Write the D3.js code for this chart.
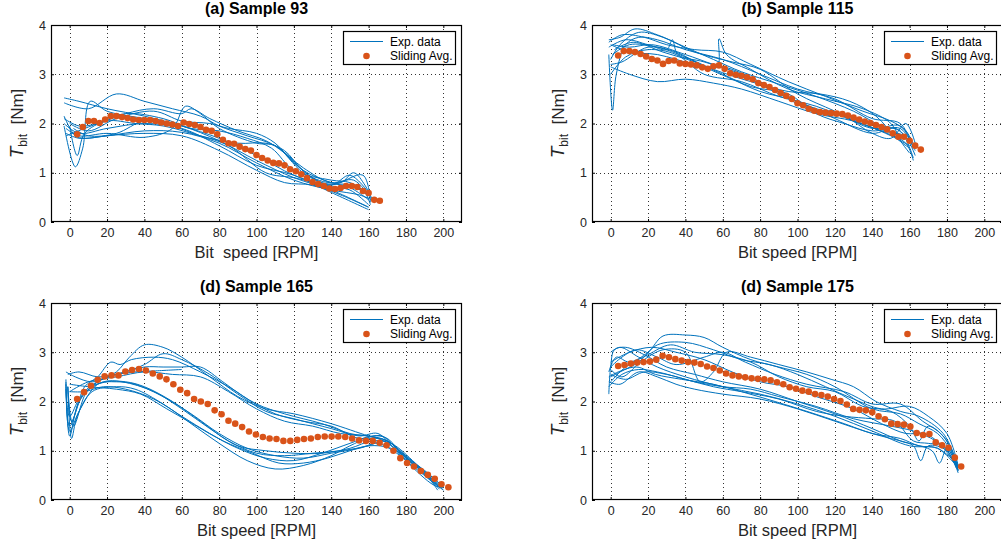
<!DOCTYPE html>
<html><head><meta charset="utf-8">
<script src="https://cdn.jsdelivr.net/npm/d3@7"></script>
<style>
body{margin:0;background:#fff;}
svg{display:block;}
text{font-family:"Liberation Sans",Arial,Helvetica,sans-serif;}
</style>
</head><body>
<svg id="chart" width="1001" height="546"></svg>
<script>
// ---------- tick labels ----------
const xTickValues = [0,20,40,60,80,100,120,140,160,180,200];
const yTickValues = [0,1,2,3,4];
const panelTitles = ["(a) Sample 93","(b) Sample 115","(d) Sample 165","(d) Sample 175"];
const xAxisLabels = ["Bit  speed [RPM]","Bit speed [RPM]","Bit speed [RPM]","Bit speed [RPM]"];
const legendLabels = ["Exp. data","Sliding Avg."];

// ---------- Sample 93 ----------
const avg93X = [4,7,10,13,16,19,22,25,28,31,34,37,40,43,46,49,52,55,58,61,64,67,70,73,76,79,82,85,88,91,94,97,100,103,106,109,112,115,118,121,124,127,130,133,136,139,142,145,148,151,154,157,160,163,166];
const avg93Y = [1.78,1.93,2.05,2.05,2.01,2.08,2.15,2.15,2.13,2.11,2.08,2.07,2.07,2.07,2.05,2.02,2.0,1.98,1.95,2.02,1.99,1.97,1.93,1.87,1.85,1.78,1.67,1.6,1.59,1.53,1.48,1.45,1.36,1.3,1.25,1.2,1.19,1.15,1.07,1.03,0.97,0.89,0.81,0.77,0.73,0.68,0.67,0.69,0.73,0.73,0.71,0.63,0.59,0.45,0.43];
const exp93 = [
 [[-3,2.52],[5,2.45],[20,2.3],[40,2.15],[60,1.95],[80,1.7],[100,1.35],[120,0.95],[140,0.72],[150,0.65],[160,0.35]],
 [[-3,2.42],[10,2.3],[25,2.6],[40,2.45],[55,2.3],[70,2.15],[80,1.95],[95,1.75],[110,1.55],[125,1.1],[140,0.8],[152,0.85],[161,0.5]],
 [[-3,2.15],[3,1.75],[8,1.7],[20,1.75],[40,1.8],[60,1.75],[80,1.45],[100,1.05],[115,0.8],[130,0.75],[145,0.55],[160,0.3]],
 [[-3,1.95],[3,1.12],[7,1.5],[11,2.45],[20,2.25],[40,2.1],[60,1.95],[80,1.65],[100,1.25],[120,0.9],[140,0.65],[160,0.3]],
 [[-2,1.9],[5,1.75],[20,1.8],[40,1.72],[55,1.9],[62,2.35],[70,2.2],[80,1.9],[100,1.6],[110,1.55],[125,1.0],[140,0.75],[150,0.95],[160,0.6]],
 [[-2,1.8],[5,1.7],[20,1.75],[40,1.85],[60,1.82],[80,1.6],[100,1.2],[120,0.85],[140,0.65],[155,0.55],[162,0.45]],
 [[-3,2.1],[5,1.95],[15,2.0],[30,2.2],[45,2.3],[60,2.2],[65,2.3],[75,2.1],[90,1.85],[105,1.65],[115,1.4],[130,0.9],[145,0.8],[152,1.0],[158,0.75],[162,0.45]],
 [[-3,2.0],[5,1.8],[20,1.9],[40,2.0],[60,1.9],[80,1.55],[100,1.15],[120,0.95],[140,0.6],[160,0.25]],
 [[0,1.95],[4,1.35],[8,1.8],[20,2.05],[35,2.0],[50,1.95],[65,1.8],[85,1.55],[105,1.0],[120,0.9],[140,0.75],[157,0.95],[161,0.4]],
 [[2,1.9],[10,1.75],[25,1.8],[40,2.05],[55,1.95],[70,1.75],[90,1.6],[105,1.6],[115,1.45],[125,1.05],[140,0.8],[150,0.7],[160,0.45]],
 [[0,2.0],[10,1.85],[25,2.1],[45,2.25],[60,2.05],[75,2.0],[85,1.9],[100,1.8],[110,1.6],[120,1.2],[135,0.8],[150,0.75],[160,0.55]],
 [[-2,1.75],[15,2.0],[30,2.2],[50,2.1],[65,1.9],[80,1.85],[95,1.7],[108,1.5],[120,1.05],[140,0.85],[150,0.8],[158,0.6],[161,0.35]]
];

// ---------- Sample 115 ----------
const avg115X = [4,7,10,13,16,19,22,25,28,31,34,37,40,43,46,49,52,55,58,61,64,67,70,73,76,79,82,85,88,91,94,97,100,103,106,109,112,115,118,121,124,127,130,133,136,139,142,145,148,151,154,157,160,163,166];
const avg115Y = [3.38,3.47,3.47,3.45,3.41,3.36,3.31,3.28,3.21,3.27,3.28,3.22,3.21,3.2,3.18,3.14,3.11,3.16,3.18,3.11,3.02,2.99,2.97,2.94,2.9,2.82,2.78,2.74,2.68,2.62,2.56,2.5,2.41,2.37,2.3,2.26,2.23,2.22,2.21,2.2,2.19,2.16,2.12,2.08,2.04,2.01,1.97,1.93,1.88,1.8,1.73,1.73,1.65,1.55,1.47];
const exp115 = [
 [[-1,3.4],[1,2.27],[3,3.0],[8,3.6],[15,3.75],[25,3.7],[40,3.5],[60,3.3],[80,3.0],[100,2.7],[120,2.5],[140,2.1],[155,2.0],[162,1.5]],
 [[-1,3.7],[5,3.75],[13,3.92],[25,3.8],[40,3.55],[55,3.3],[70,3.05],[90,2.8],[110,2.55],[130,2.25],[145,1.95],[155,1.85],[162,1.3]],
 [[0,3.15],[10,3.0],[25,2.85],[40,2.9],[55,2.82],[70,2.7],[90,2.45],[110,2.2],[130,2.05],[145,1.85],[157,1.75],[163,1.35]],
 [[-1,3.55],[8,3.7],[20,3.6],[30,3.5],[33,3.7],[36,3.4],[50,3.25],[70,3.0],[90,2.6],[110,2.3],[125,2.15],[140,1.8],[150,1.7],[158,2.0],[163,1.6]],
 [[0,3.6],[10,3.45],[25,3.4],[45,3.2],[57,3.15],[58,3.72],[62,3.4],[75,3.1],[95,2.7],[115,2.5],[135,2.3],[150,2.0],[156,1.6],[160,1.4]],
 [[0,3.3],[5,3.6],[15,3.85],[28,3.75],[45,3.45],[65,3.25],[80,3.1],[100,2.6],[120,2.25],[140,1.9],[155,1.95],[162,1.5]],
 [[0,3.0],[8,3.35],[20,3.5],[35,3.4],[50,3.0],[70,2.85],[90,2.55],[110,2.35],[130,2.05],[148,1.8],[158,1.6],[162,1.25]],
 [[1,3.4],[10,3.6],[25,3.55],[40,3.35],[55,3.1],[75,2.85],[95,2.65],[112,2.6],[128,2.45],[142,2.15],[153,1.7],[160,1.5]],
 [[0,3.2],[6,3.25],[20,3.55],[35,3.45],[50,3.15],[65,2.9],[80,2.65],[100,2.45],[120,2.1],[140,1.8],[152,1.9],[160,1.65]],
 [[2,3.5],[12,3.65],[28,3.45],[45,3.25],[60,3.0],[75,2.75],[95,2.6],[110,2.2],[125,2.0],[140,1.85],[155,1.9],[163,1.45]],
 [[-1,3.65],[6,3.8],[18,3.75],[30,3.6],[45,3.5],[60,3.45],[75,3.2],[95,2.85],[115,2.55],[135,2.25],[150,2.05],[158,1.85],[163,1.5]],
 [[1,3.6],[10,3.55],[22,3.6],[40,3.4],[55,3.2],[65,3.1],[85,2.75],[105,2.3],[120,2.2],[138,1.95],[150,1.75],[160,1.55]]
];

// ---------- Sample 165 ----------
const avg165X = [4,7.7,11.4,15,18.7,22.4,26.1,29.8,33.4,37.1,40.8,44.5,48.2,51.8,55.5,59.2,62.9,66.6,70.2,73.9,77.6,81.3,85,88.6,92.3,96,99.7,103.4,107,110.7,114.4,118.1,121.8,125.4,129.1,132.8,136.5,140.2,143.8,147.5,151.2,154.9,158.6,162.2,165.9,169.6,173.3,177,180.6,184.3,188,191.7,195.4,199,202.7];
const avg165Y = [2.05,2.19,2.32,2.44,2.51,2.53,2.53,2.61,2.64,2.66,2.63,2.57,2.51,2.45,2.35,2.24,2.17,2.05,2.0,1.95,1.82,1.74,1.61,1.55,1.48,1.39,1.33,1.28,1.25,1.24,1.2,1.2,1.22,1.24,1.25,1.28,1.29,1.29,1.29,1.28,1.25,1.21,1.2,1.2,1.16,1.11,1.0,0.85,0.75,0.68,0.59,0.51,0.43,0.32,0.26];
const exp165 = [
 [[-2,2.4],[0,1.3],[5,2.0],[15,2.4],[25,2.6],[32,2.9],[40,3.15],[50,3.1],[60,2.9],[75,2.5],[90,2.1],[105,1.85],[120,1.75],[140,1.55],[160,1.3],[170,1.2],[180,0.9],[195,0.4],[200,0.2]],
 [[-2,2.45],[0,1.5],[8,2.2],[20,2.5],[30,2.6],[40,2.75],[50,2.97],[60,2.85],[75,2.55],[90,2.15],[105,1.8],[120,1.65],[140,1.45],[155,1.3],[165,1.35],[175,1.0],[190,0.6],[200,0.25]],
 [[-1,2.3],[1,1.6],[8,2.3],[15,2.5],[22,2.8],[27,2.75],[33,2.85],[45,2.9],[55,2.85],[70,2.6],[85,2.3],[100,1.95],[115,1.75],[135,1.55],[150,1.35],[165,1.25],[178,0.95],[190,0.55],[198,0.25]],
 [[-1,2.55],[5,2.6],[15,2.5],[25,2.55],[35,2.6],[45,2.62],[60,2.65]],
 [[0,2.2],[10,2.4],[25,2.5],[40,2.6],[55,2.55],[70,2.5],[85,2.2],[100,1.85],[115,1.6],[130,1.5],[145,1.35],[160,1.3],[170,1.2],[182,0.8],[195,0.35],[200,0.2]],
 [[-2,2.6],[3,2.5],[12,2.4],[25,2.55],[40,2.7],[50,2.7],[60,2.7],[70,2.7],[82,2.4],[95,2.05],[110,1.75],[125,1.6],[140,1.5],[155,1.25],[167,1.3],[180,0.85],[193,0.5],[199,0.3]],
 [[-2,2.35],[0,1.4],[5,1.8],[15,2.35],[25,2.4],[35,2.35],[50,2.1],[65,1.75],[80,1.35],[95,1.05],[110,0.9],[125,0.85],[140,0.95],[155,1.05],[165,1.15],[175,0.95],[190,0.55],[199,0.25]],
 [[-1,2.3],[1,1.25],[4,1.7],[12,2.2],[25,2.3],[35,2.25],[50,1.95],[65,1.55],[80,1.15],[95,0.8],[110,0.63],[125,0.7],[140,0.9],[150,1.1],[160,1.25],[170,1.2],[180,0.85],[192,0.45],[197,0.2]],
 [[0,2.2],[8,2.2],[18,2.3],[30,2.25],[45,2.05],[60,1.7],[75,1.35],[90,1.05],[105,0.85],[120,0.8],[135,0.95],[150,1.15],[162,1.3],[170,1.25],[180,0.8],[195,0.3],[200,0.25]],
 [[-1,2.3],[2,1.5],[10,2.25],[20,2.4],[30,2.4],[40,2.3],[55,2.0],[70,1.6],[85,1.2],[100,0.95],[115,0.9],[130,0.95],[145,1.0],[160,1.1],[168,1.2],[180,0.8],[193,0.4],[198,0.22]],
 [[0,2.35],[10,2.3],[25,2.25],[38,2.15],[52,1.85],[68,1.5],[82,1.2],[98,0.95],[112,0.75],[125,0.75],[138,0.85],[150,1.0],[160,1.1],[172,1.05],[185,0.7],[196,0.3]],
 [[-2,2.25],[0,1.7],[6,2.1],[18,2.4],[28,2.4],[45,2.2],[60,1.85],[75,1.45],[90,1.1],[105,1.0],[120,0.95],[135,0.95],[150,1.05],[162,1.2],[172,1.15],[185,0.75],[197,0.3]]
];

// ---------- Sample 175 ----------
const avg175X = [4,7.4,10.8,14.2,17.6,21,24.4,27.8,31.2,34.6,38,41.4,44.8,48.2,51.6,55,58.4,61.8,65.2,68.6,72,75.4,78.8,82.2,85.6,89,92.4,95.8,99.2,102.6,106,109.4,112.8,116.2,119.6,123,126.4,129.8,133.2,136.6,140,143.4,146.8,150.2,153.6,157,160.4,163.8,167.2,170.6,174,177.4,180.8,184.2,187.6];
const avg175Y = [2.72,2.74,2.77,2.79,2.8,2.81,2.85,2.93,2.9,2.86,2.83,2.8,2.79,2.76,2.71,2.68,2.63,2.57,2.53,2.51,2.49,2.47,2.46,2.45,2.43,2.39,2.35,2.29,2.26,2.22,2.2,2.15,2.13,2.1,2.05,2.01,1.94,1.85,1.83,1.82,1.78,1.7,1.64,1.55,1.54,1.53,1.49,1.36,1.32,1.34,1.17,1.11,1.06,0.86,0.68];
const exp175 = [
 [[-1,2.6],[3,2.9],[10,2.8],[20,3.0],[28,3.33],[40,3.35],[50,3.3],[60,3.1],[75,2.85],[90,2.7],[105,2.55],[120,2.3],[140,1.85],[155,1.75],[165,1.55],[175,1.35],[182,1.0],[186,0.6]],
 [[-1,2.15],[0,2.7],[2,3.05],[8,3.1],[18,2.95],[30,2.7],[45,2.55],[60,2.4],[80,2.25],[100,2.0],[120,1.75],[140,1.45],[155,1.2],[162,1.1],[166,0.8],[170,1.1],[180,1.0],[186,0.55]],
 [[0,2.5],[5,2.6],[15,2.8],[25,3.15],[40,3.2],[55,3.05],[70,2.85],[85,2.75],[100,2.55],[115,2.3],[130,2.05],[145,1.85],[160,1.9],[170,1.7],[180,1.35],[186,0.7]],
 [[-1,2.4],[5,2.35],[15,2.6],[25,2.5],[35,2.35],[45,2.25],[60,2.15],[80,2.05],[100,1.85],[120,1.6],[140,1.35],[160,1.15],[172,1.0],[176,0.75],[180,1.05],[186,0.6]],
 [[0,3.0],[5,3.1],[15,2.9],[25,2.7],[40,2.5],[60,2.3],[80,2.15],[100,1.95],[120,1.7],[140,1.4],[160,1.1],[175,1.05],[185,0.75]],
 [[0,2.4],[8,2.7],[20,2.95],[32,3.15],[45,3.0],[60,2.95],[75,2.8],[90,2.5],[105,2.3],[120,2.2],[135,1.9],[150,1.8],[160,1.5],[165,1.2],[170,1.5],[180,1.2],[186,0.65]],
 [[0,2.65],[6,2.5],[16,2.8],[28,3.05],[40,3.0],[48,2.4],[55,2.6],[62,3.0],[75,2.9],[90,2.75],[105,2.6],[118,2.45],[130,2.3],[142,2.0],[155,1.8],[165,1.7],[178,1.35],[186,0.7]],
 [[-1,2.3],[6,2.55],[15,2.65],[25,2.6],[40,2.45],[55,2.3],[70,2.2],[90,2.05],[110,1.8],[125,1.7],[140,1.65],[152,1.6],[162,1.2],[170,1.15],[178,1.1],[185,0.65]],
 [[0,2.8],[10,3.0],[22,3.1],[35,3.0],[50,2.85],[65,2.6],[80,2.4],[95,2.3],[110,2.1],[130,1.85],[145,1.55],[158,1.35],[168,1.35],[176,1.15],[185,0.7]],
 [[0,2.55],[8,2.45],[18,2.6],[30,2.55],[45,2.4],[60,2.3],[75,2.25],[90,2.1],[110,1.9],[130,1.65],[150,1.5],[162,1.4],[174,1.2],[182,0.95],[186,0.6]],
 [[0,2.7],[6,2.9],[14,3.05],[25,2.9],[35,2.75],[50,2.9],[60,3.0],[72,2.8],[88,2.55],[105,2.35],[125,2.2],[140,1.95],[155,1.95],[167,1.6],[178,1.3],[186,0.65]],
 [[-1,2.5],[4,2.6],[14,2.7],[24,2.55],[38,2.45],[55,2.35],[70,2.2],[88,2.0],[105,1.8],[125,1.55],[140,1.35],[155,1.25],[165,1.1],[175,1.05],[185,0.7]]
];

// ---------- drawing ----------
const BLUE = "#0072BD", ORANGE = "#D95319";
const svg = d3.select("#chart");
const panels = [
  {left:51, right:462, top:25, bottom:222, title:panelTitles[0], xlabel:xAxisLabels[0], curves:exp93, ax:avg93X, ay:avg93Y},
  {left:592, right:1003, top:25, bottom:222, title:panelTitles[1], xlabel:xAxisLabels[1], curves:exp115, ax:avg115X, ay:avg115Y},
  {left:51, right:462, top:303, bottom:500, title:panelTitles[2], xlabel:xAxisLabels[2], curves:exp165, ax:avg165X, ay:avg165Y},
  {left:592, right:1003, top:303, bottom:500, title:panelTitles[3], xlabel:xAxisLabels[3], curves:exp175, ax:avg175X, ay:avg175Y}
];

panels.forEach((p, i) => {
  const g = svg.append("g");
  const x = d3.scaleLinear().domain([-10, 210]).range([p.left, p.right]);
  const y = d3.scaleLinear().domain([0, 4]).range([p.bottom, p.top]);
  const clipId = "clip" + i;
  g.append("clipPath").attr("id", clipId).append("rect")
    .attr("x", p.left).attr("y", p.top).attr("width", p.right - p.left).attr("height", p.bottom - p.top);

  // grid
  const grid = g.append("g").attr("stroke", "#333").attr("stroke-width", 1).attr("stroke-dasharray", "1,3");
  grid.selectAll("line.gx").data(xTickValues).join("line")
    .attr("x1", d => Math.round(x(d)) + 0.5).attr("x2", d => Math.round(x(d)) + 0.5)
    .attr("y1", p.top).attr("y2", p.bottom);
  grid.selectAll("line.gy").data(yTickValues.filter(v => v > 0 && v < 4)).join("line")
    .attr("y1", d => Math.round(y(d)) + 0.5).attr("y2", d => Math.round(y(d)) + 0.5)
    .attr("x1", p.left).attr("x2", p.right);

  // axes
  const fmt = d3.format("d");
  const axB = d3.axisBottom(x).tickValues(xTickValues).tickFormat(fmt).tickSize(-3).tickPadding(6);
  const axL = d3.axisLeft(y).tickValues(yTickValues).tickFormat(fmt).tickSize(-3).tickPadding(5);
  const axT = d3.axisTop(x).tickValues(xTickValues).tickSize(-3).tickFormat("");
  const axR = d3.axisRight(y).tickValues(yTickValues).tickSize(-3).tickFormat("");
  const styleAxis = sel => {
    sel.select(".domain").remove();
    sel.selectAll("line").attr("stroke", "#000");
    sel.selectAll("text").attr("fill", "#262626").style("font-size", "12.5px")
      .style("font-family", '"Liberation Sans", Arial, sans-serif');
  };
  g.append("g").attr("transform", `translate(0,${p.bottom})`).call(axB).call(styleAxis);
  g.append("g").attr("transform", `translate(${p.left},0)`).call(axL).call(styleAxis);
  g.append("g").attr("transform", `translate(0,${p.top})`).call(axT).call(styleAxis);
  g.append("g").attr("transform", `translate(${p.right},0)`).call(axR).call(styleAxis);

  // data lines
  const line = d3.line().x(d => x(d[0])).y(d => y(d[1])).curve(d3.curveCatmullRom.alpha(0.5));
  g.append("g").attr("clip-path", `url(#${clipId})`)
    .selectAll("path").data(p.curves).join("path")
    .attr("d", line).attr("fill", "none").attr("stroke", BLUE).attr("stroke-width", 1);

  // sliding average dots
  g.append("g").selectAll("circle").data(p.ax.map((v, k) => [v, p.ay[k]])).join("circle")
    .attr("cx", d => x(d[0])).attr("cy", d => y(d[1])).attr("r", 3.3).attr("fill", ORANGE);

  // box
  g.append("rect").attr("x", p.left + 0.5).attr("y", p.top + 0.5)
    .attr("width", p.right - p.left - 1).attr("height", p.bottom - p.top - 1)
    .attr("fill", "none").attr("stroke", "#000").attr("stroke-width", 1.2);

  // legend
  const lx = p.right - 119, ly = p.top + 6;
  const lg = g.append("g").attr("transform", `translate(${lx},${ly})`);
  lg.append("rect").attr("x", 0.5).attr("y", 0.5).attr("width", 112).attr("height", 33)
    .attr("fill", "#fff").attr("stroke", "#000").attr("stroke-width", 1.2);
  lg.append("line").attr("x1", 7).attr("x2", 40).attr("y1", 10.5).attr("y2", 10.5)
    .attr("stroke", BLUE).attr("stroke-width", 1);
  lg.append("circle").attr("cx", 23.5).attr("cy", 25).attr("r", 3.3).attr("fill", ORANGE);
  lg.append("text").attr("x", 47).attr("y", 14.5).attr("font-size", 12).attr("fill", "#000").text(legendLabels[0]);
  lg.append("text").attr("x", 47).attr("y", 29).attr("font-size", 12).attr("fill", "#000").text(legendLabels[1]);

  // title
  g.append("text").attr("x", (p.left + p.right) / 2).attr("y", p.top - 11)
    .attr("text-anchor", "middle").attr("font-size", 16).attr("font-weight", "bold").attr("fill", "#000")
    .text(p.title);

  // x label
  g.append("text").attr("x", (p.left + p.right) / 2).attr("y", p.bottom + 36)
    .attr("text-anchor", "middle").attr("font-size", 16.5).attr("fill", "#262626")
    .style("white-space", "pre").text(p.xlabel);

  // y label
  const yl = g.append("text")
    .attr("transform", `translate(${p.left - 28},${(p.top + p.bottom) / 2}) rotate(-90)`)
    .attr("text-anchor", "middle").attr("font-size", 17).attr("fill", "#262626");
  yl.append("tspan").attr("font-style", "italic").attr("font-size", 19).text("T");
  yl.append("tspan").attr("font-size", 12).attr("dy", 4).text("bit");
  yl.append("tspan").attr("dy", -4).text("\u00A0\u00A0[Nm]");
});
</script>
</body></html>
